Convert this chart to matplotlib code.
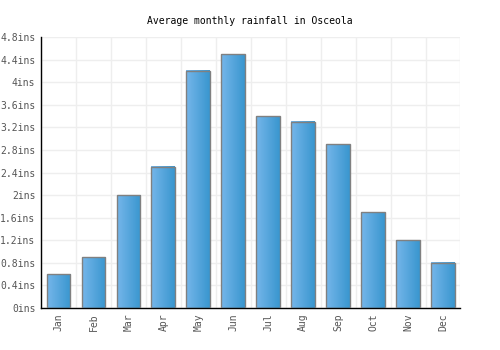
import matplotlib
matplotlib.use('agg')
import matplotlib.pyplot as plt
import numpy as np
from matplotlib.colors import LinearSegmentedColormap

months = ['Jan', 'Feb', 'Mar', 'Apr', 'May', 'Jun',
          'Jul', 'Aug', 'Sep', 'Oct', 'Nov', 'Dec']
rainfall = [0.6, 0.9, 2.0, 2.5, 4.2, 4.5, 3.4, 3.3, 2.9, 1.7, 1.2, 0.8]
yticks = [0, 0.4, 0.8, 1.2, 1.6, 2.0, 2.4, 2.8, 3.2, 3.6, 4.0, 4.4, 4.8]
ylabels = ['0ins', '0.4ins', '0.8ins', '1.2ins', '1.6ins', '2ins', '2.4ins',
           '2.8ins', '3.2ins', '3.6ins', '4ins', '4.4ins', '4.8ins']

plt.rcParams['font.family'] = ['DejaVu Sans Mono']

fig = plt.figure(figsize=(5, 3.5), dpi=100)
ax = fig.add_axes([0.082, 0.12, 0.839, 0.774])

grad = LinearSegmentedColormap.from_list('g', ['#75b6ea', '#3996cf'])
g = np.linspace(0, 1, 64).reshape(1, -1)
width = 0.68
x = np.arange(len(months))
for xi, v in zip(x, rainfall):
    ax.imshow(g, cmap=grad, aspect='auto', extent=(xi - width/2, xi + width/2, 0, v),
              zorder=2, interpolation='bilinear')
ax.bar(x, rainfall, width=width, facecolor='none', edgecolor='#808080',
       linewidth=1.0, zorder=3)

ax.set_xlim(-0.5, 11.5)
ax.set_ylim(0, 4.8)
ax.set_xticks(x)
ax.set_xticklabels(months, rotation=90, fontsize=7, color='#555555')
ax.set_yticks(yticks)
ax.set_yticklabels(ylabels, fontsize=7, color='#555555')
ax.set_xticks(np.arange(-0.5, 12, 1), minor=True)
ax.grid(which='minor', axis='x', color='#eeeeee', linewidth=1, zorder=0)
ax.grid(which='major', axis='y', color='#eeeeee', linewidth=1, zorder=0)
ax.tick_params(which='both', length=0, pad=4)
ax.set_axisbelow(True)
for s in ['top', 'right']:
    ax.spines[s].set_visible(False)
for s in ['left', 'bottom']:
    ax.spines[s].set_color('black')
    ax.spines[s].set_linewidth(1)

fig.suptitle('Average monthly rainfall in Osceola', fontsize=7, y=0.955)
fig.savefig('out.png', dpi=100)
